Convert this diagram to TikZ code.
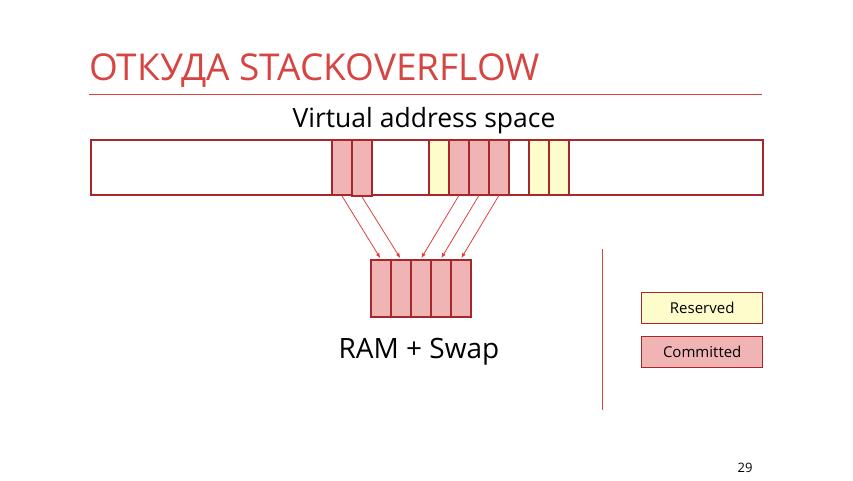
\documentclass[tikz,border=0pt]{standalone}
\usepackage{fontspec}
\setmainfont{Open Sans}
\usepackage{xcolor}
\usepackage{tikz}
\usetikzlibrary{arrows.meta, positioning}
\definecolor{slred}{RGB}{214,69,65}
\definecolor{frame}{RGB}{166,40,42}
\definecolor{pagepink}{RGB}{240,180,180}
\definecolor{pageyellow}{RGB}{255,252,204}
\definecolor{maparrow}{RGB}{222,64,60}

\tikzset{
    page/.style={
        draw=frame,
        line width=1.6pt,
        minimum width=20pt,
        minimum height=55pt,
        inner sep=0pt,
        anchor=north west
    },
    committed/.style={page, fill=pagepink},
    reserved/.style={page, fill=pageyellow},
    legendbox/.style={
        draw=frame,
        line width=1.4pt,
        minimum width=121pt,
        minimum height=31pt,
        inner sep=0pt,
        anchor=north west,
        font=\fontsize{15}{17}\selectfont
    },
    maplink/.style={
        draw=maparrow,
        line width=0.8pt,
        -{Latex[length=5pt,width=4pt]},
        shorten >=1pt
    }
}

\begin{document}
\begin{tikzpicture}[x=1pt, y=-1pt]
\useasboundingbox (0,0) rectangle (853,480);

% title and rule
\node[anchor=base west, inner sep=0pt, text=slred,
    font=\fontsize{37}{40}\selectfont] (title) at (89,80) {ОТКУДА STACKOVERFLOW};
\draw[slred, line width=1pt] (89,94) -- (762,94);

% virtual address space
\node[anchor=base, inner sep=0pt, font=\fontsize{26.5}{29}\selectfont]
    (vaslabel) at (424,127) {Virtual address space};
\node[draw=frame, line width=1.8pt, minimum width=672pt, minimum height=55pt,
    inner sep=0pt, anchor=north west] (vas) at (90,139) {};

\node[committed] (v1) at (331,139) {};
\node[committed, minimum height=56pt] (v2) at (351,139) {};
\node[reserved]  (v3) at (428,139) {};
\node[committed] (v4) at (448,139) {};
\node[committed] (v5) at (468,139) {};
\node[committed] (v6) at (488,139) {};
\node[reserved]  (v7) at (528,139) {};
\node[reserved]  (v8) at (548,139) {};

% physical memory
\foreach \i in {1,...,5}
    \node[committed, minimum height=57pt] (r\i) at (350+20*\i,259) {};

\node[anchor=base, inner sep=0pt, font=\fontsize{28}{31}\selectfont]
    (ramlabel) at (419,358) {RAM + Swap};

% mapping
\draw[maplink] (v1.south) -- (r1.north);
\draw[maplink] (v2.south) -- (r2.north);
\draw[maplink] (v4.south) -- (r3.north);
\draw[maplink] (v5.south) -- (r4.north);
\draw[maplink] (v6.south) -- (r5.north);

% legend
\coordinate (septop) at (602,249);
\coordinate (sepbot) at (602,410);
\draw[slred, line width=1pt] (septop) -- (sepbot);

\node[legendbox, fill=pageyellow] (legres) at (641,292) {Reserved};
\node[legendbox, fill=pagepink] (legcom) at (641,336) {Committed};

\node[anchor=base, inner sep=0pt, font=\fontsize{13}{15}\selectfont]
    (pagenum) at (745,472) {29};
\end{tikzpicture}
\end{document}
